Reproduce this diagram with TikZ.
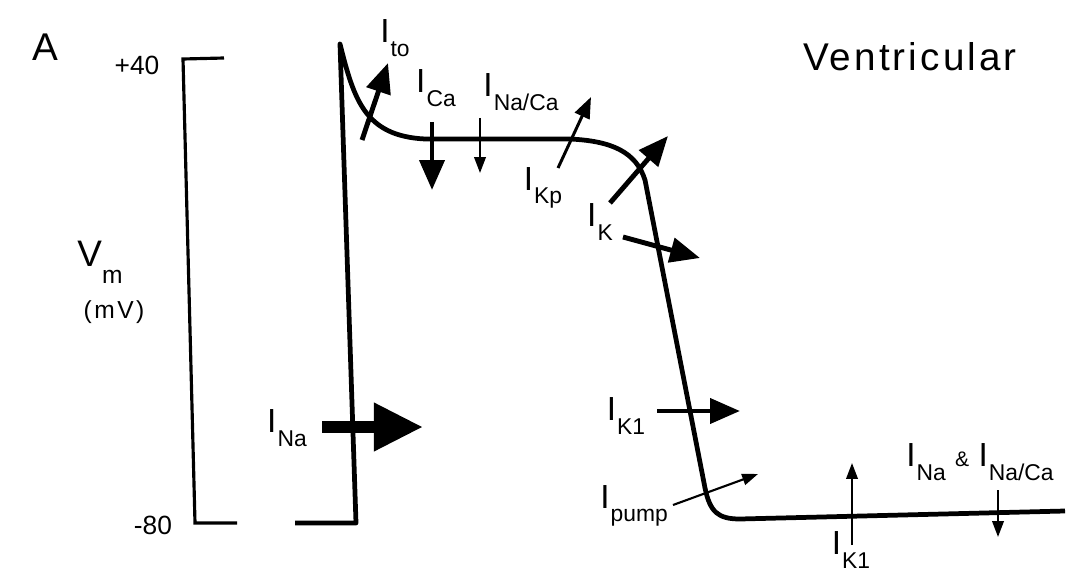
\documentclass[tikz,border=0pt]{standalone}
\usepackage{fontspec}
\setmainfont{Liberation Sans}
\usetikzlibrary{arrows.meta}
\newcommand{\Icur}[1]{I\kern0.6pt\raisebox{-0.4em}{\fontsize{13}{13}\selectfont #1}}

\begin{document}
\begin{tikzpicture}[x=0.2mm, y=-0.2mm,
  trace/.style={line width=2.7pt, line join=round},
  bar/.style={line width=1.8pt},
  lbl/.style={font=\fontsize{19}{19}\selectfont, inner sep=0pt},
  tick/.style={font=\fontsize{15}{15}\selectfont, inner sep=0pt},
  heavy/.style={line width=6.5pt, -{Triangle[length=28pt, width=26pt]}},
  bigcur/.style={line width=2.8pt, -{Triangle[length=17pt, width=14pt]}},
  midcur/.style={line width=1.7pt, -{Triangle[length=12pt, width=9pt]}},
  thincur/.style={line width=1.2pt, -{Triangle[length=9pt, width=6.5pt]}}
]
  \useasboundingbox (0,0) rectangle (1080,574);
  % Panel letter and title
  \node[font=\fontsize{22}{22}\selectfont, inner sep=0pt] (panel) at (45,47) {A};
  \node[font=\fontsize{22}{22}\selectfont\addfontfeature{LetterSpace=8}, inner sep=0pt] (title) at (910,57) {Ventricular};
  % Voltage scale bar
  \draw[bar] (224,58) -- (183,59) -- (195,523) -- (237,523);
  \node[tick] (top) at (137,65) {+40};
  \node[tick] (bot) at (153,525) {-80};
  \node[font=\fontsize{21}{21}\selectfont, inner sep=0pt] (vm) at (100,262) {V\raisebox{-0.45em}{\fontsize{14}{14}\selectfont m}};
  \node[font=\fontsize{14}{14}\selectfont\addfontfeature{LetterSpace=10}, inner sep=0pt] (unit) at (114,312) {(mV)};
  % Action potential
  \coordinate (rest) at (295,523);
  \coordinate (peak) at (340,44);
  \draw[trace] (rest) -- (356,523) -- (peak)
    .. controls (354,100) and (365,136) .. (425,139) -- (570,139)
    .. controls (612,141) and (636,152) .. (645,180) -- (705,488)
    .. controls (710,512) and (718,519) .. (740,519) -- (1065,511);
  % Currents
  \draw[heavy] (322,427) -- (423,427);
  \node[lbl] (ina) at (287,428) {\Icur{Na}};
  \draw[bigcur] (362,140) -- (388,63);
  \node[lbl] (ito) at (395,38) {\Icur{to}};
  \draw[bigcur] (432,122) -- (432,190);
  \node[lbl] (ica) at (436,88) {\Icur{Ca}};
  \draw[thincur] (480,118) -- (480,173);
  \node[lbl] (inaca) at (521,92) {\Icur{Na/Ca}};
  \draw[midcur] (558,168) -- (591,97);
  \node[lbl] (ikp) at (543,188) {\Icur{Kp}};
  \draw[bigcur] (610,203) -- (668,136);
  \draw[bigcur] (623,237) -- (700,258);
  \node[lbl] (ik) at (600,222) {\Icur{K}};
  \draw[bigcur] (657,411) -- (740,411);
  \node[lbl] (ikone) at (626,416) {\Icur{K1}};
  \draw[thincur] (673,505) -- (758,474);
  \node[lbl] (ipump) at (634,506) {\Icur{pump}};
  \draw[thincur] (852,545) -- (852,463);
  \node[lbl] (ikrest) at (851,550) {\Icur{K1}};
  \draw[thincur] (998,490) -- (998,537);
  \node[lbl] (inarest) at (980,462) {\Icur{Na}~{\fontsize{12}{12}\selectfont\&}~\Icur{Na/Ca}};
\end{tikzpicture}
\end{document}
